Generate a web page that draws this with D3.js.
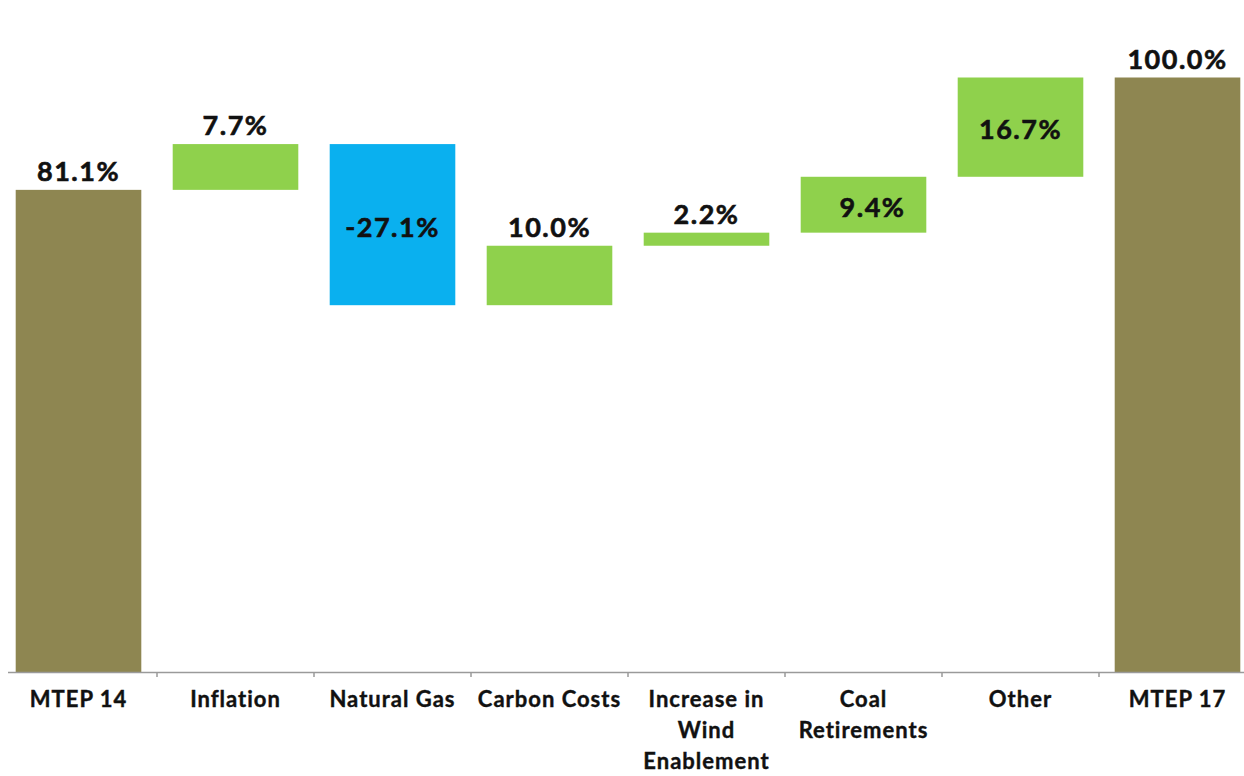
<!DOCTYPE html>
<html>
<head>
<meta charset="utf-8">
<script src="https://cdn.jsdelivr.net/npm/d3@7"></script>
<style>
  body { margin: 0; background: #fff; }
  text { font-family: Lato, "Open Sans", sans-serif; font-weight: bold; fill: #111; }
</style>
</head>
<body>
<div id="waterfall"></div>
<script>
// categories and the values shown on each bar
var categories = ["MTEP 14", "Inflation", "Natural Gas", "Carbon Costs", "Increase in Wind Enablement", "Coal Retirements", "Other", "MTEP 17"];
var tickLabels = [["MTEP 14"], ["Inflation"], ["Natural Gas"], ["Carbon Costs"], ["Increase in", "Wind", "Enablement"], ["Coal", "Retirements"], ["Other"], ["MTEP 17"]];
var values = [81.1, 7.7, -27.1, 10.0, 2.2, 9.4, 16.7, 100.0];
var kinds = ["total", "delta", "delta", "delta", "delta", "delta", "delta", "total"];
var labelsInside = ["Natural Gas", "Coal Retirements", "Other"];

var width = 1244, height = 776;
var baseY = 672, topY = 77.5;

// running totals for the floating bars
var running = 0;
var bars = categories.map(function (c, i) {
    var from, to;
    if (kinds[i] == "total") {
        from = 0; to = values[i]; running = values[i];
    } else {
        from = running; to = running + values[i]; running = to;
    }
    return { name: c, value: values[i], kind: kinds[i], lo: Math.min(from, to), hi: Math.max(from, to) };
});

var svg = d3.select("#waterfall").append("svg")
    .attr("width", width)
    .attr("height", height);

var x = d3.scaleBand()
    .domain(categories)
    .range([0, 1256])
    .paddingInner(0.2)
    .paddingOuter(0.1);

var y = d3.scaleLinear()
    .domain([0, 100])
    .range([baseY, topY]);

var color = function (d) {
    if (d.kind == "total") return "#8e8651";
    return d.value < 0 ? "#0ab0ef" : "#8fd14c";
};

svg.selectAll(".bar")
    .data(bars)
    .enter()
    .append("rect")
    .attr("class", "bar")
    .attr("x", function (d) { return x(d.name); })
    .attr("width", x.bandwidth())
    .attr("y", function (d) { return y(d.hi); })
    .attr("height", function (d) { return y(d.lo) - y(d.hi); })
    .attr("fill", color);

// value labels, above the bar or centred inside it
svg.selectAll(".label")
    .data(bars)
    .enter()
    .append("text")
    .attr("class", "label")
    .attr("text-anchor", "middle")
    .attr("font-size", "27px")
    .attr("letter-spacing", "1.5px")
    .attr("stroke", "#111")
    .attr("stroke-width", 0.6)
    .attr("x", function (d) {
        return x(d.name) + x.bandwidth() / 2 + (d.name == "Coal Retirements" ? 9 : 0);
    })
    .attr("y", function (d) {
        if (labelsInside.indexOf(d.name) >= 0) return (y(d.lo) + y(d.hi)) / 2 + 12;
        return y(d.hi) - 9;
    })
    .text(function (d) { return d.value.toFixed(1) + "%"; });

// x axis: labels at band centres, tick marks between bands
var xAxis = d3.axisBottom(x).tickSize(0).tickFormat("");
var gx = svg.append("g")
    .attr("transform", "translate(0," + baseY + ")")
    .call(xAxis);
gx.select(".domain")
    .attr("d", "M8,0.5H" + width)
    .attr("stroke", "#9a9a9a")
    .attr("stroke-width", 1.5);

var step = x.step();
gx.selectAll(".sep")
    .data(categories.slice(1))
    .enter()
    .append("line")
    .attr("x1", function (d) { return x(d) - step * x.paddingInner() / 2; })
    .attr("x2", function (d) { return x(d) - step * x.paddingInner() / 2; })
    .attr("y1", 0)
    .attr("y2", 5)
    .attr("stroke", "#9a9a9a")
    .attr("stroke-width", 1.5);

gx.selectAll(".tick").each(function (d, i) {
    var t = d3.select(this).select("text")
        .attr("y", null)
        .attr("dy", null)
        .attr("font-size", "22px")
        .attr("letter-spacing", "1px")
        .attr("fill", "#111")
        .attr("stroke", "#111")
        .attr("stroke-width", 0.4)
        .style("font-family", "Lato, 'Open Sans', sans-serif")
        .style("font-weight", "bold");
    tickLabels[i].forEach(function (line, j) {
        t.append("tspan")
            .attr("x", 0)
            .attr("y", 35 + j * 31)
            .text(line);
    });
});
</script>
</body>
</html>
